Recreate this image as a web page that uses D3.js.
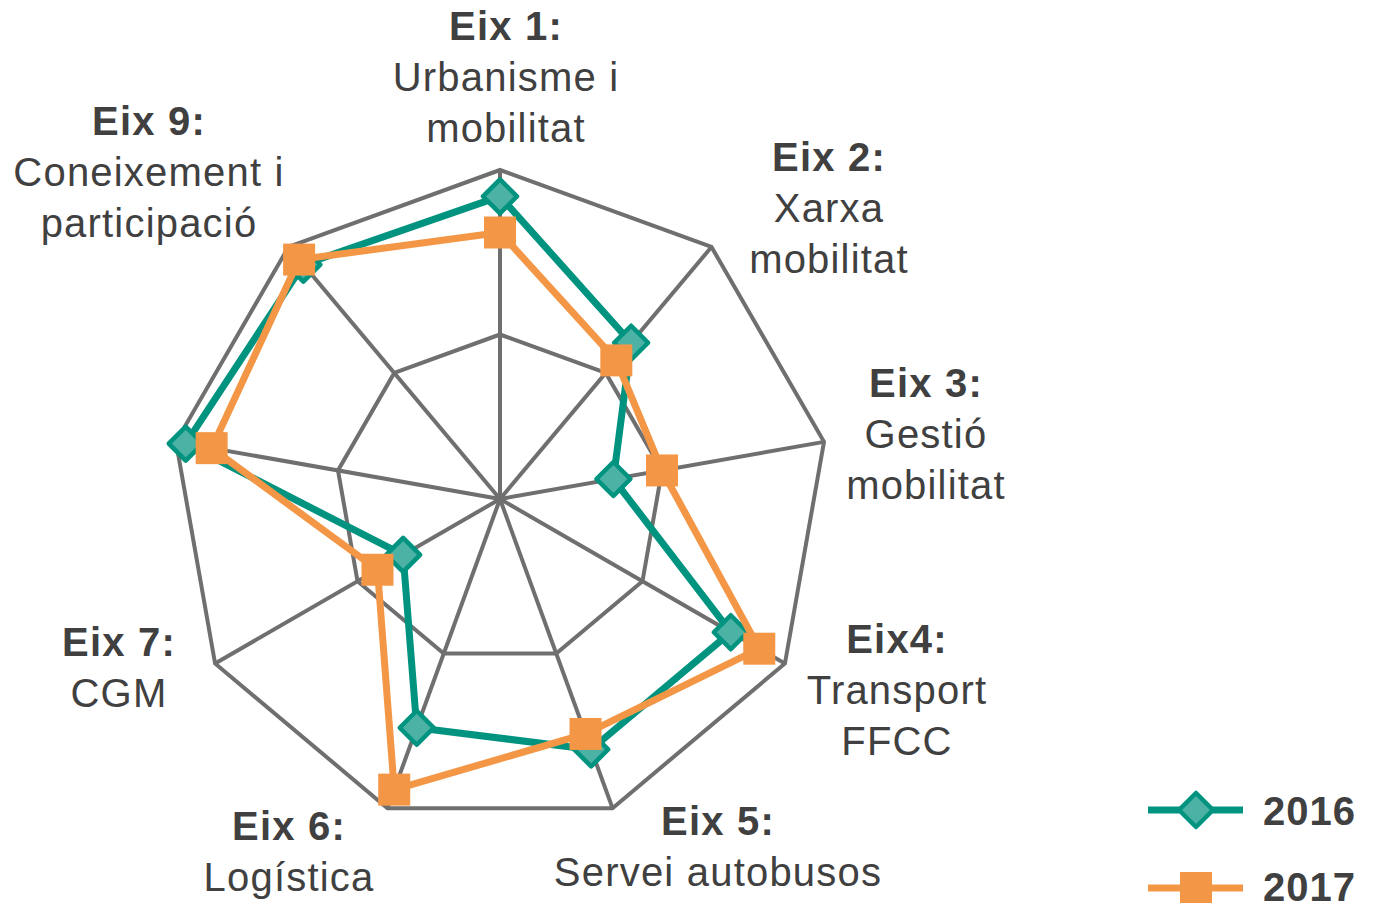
<!DOCTYPE html>
<html>
<head>
<meta charset="utf-8">
<script src="https://cdn.jsdelivr.net/npm/d3@7"></script>
<style>
  html, body { margin: 0; padding: 0; background: #ffffff; }
  svg { display: block; }
</style>
</head>
<body>
<svg id="chart" width="1378" height="903"></svg>
<script>
// ---- data ----
const categories = ["Eix 1", "Eix 2", "Eix 3", "Eix4", "Eix 5", "Eix 6", "Eix 7", "Eix 8", "Eix 9"];
const labelTitles = ["Eix 1:", "Eix 2:", "Eix 3:", "Eix4:", "Eix 5:", "Eix 6:", "Eix 7:", "", "Eix 9:"];
const labelLines = [
  ["Urbanisme i", "mobilitat"],
  ["Xarxa", "mobilitat"],
  ["Gestió", "mobilitat"],
  ["Transport", "FFCC"],
  ["Servei autobusos"],
  ["Logística"],
  ["CGM"],
  [],
  ["Coneixement i", "participació"]
];
const values2016 = [92, 62, 35, 81, 81, 74, 34, 97, 93];
const values2017 = [81, 55, 50, 91, 76, 94, 43, 89, 95];
const seriesNames = ["2016", "2017"];
const gridLevels = [50, 100];

// ---- layout ----
const cx = 500, cy = 499, R = 329;
const svg = d3.select("#chart");
const g = svg.append("g").attr("transform", `translate(${cx},${cy})`);

const rScale = d3.scaleLinear().domain([0, 100]).range([0, R]);
const aScale = d3.scaleLinear().domain([0, categories.length]).range([0, 2 * Math.PI]);
const pt = (i, v) => {
  const a = aScale(i);
  return [rScale(v) * Math.sin(a), -rScale(v) * Math.cos(a)];
};

const gridColor = "#6f6f6f";
// grid rings
gridLevels.forEach(lv => {
  g.append("path")
    .attr("d", d3.line()(categories.map((c, i) => pt(i, lv))) + "Z")
    .attr("fill", "none")
    .attr("stroke", gridColor)
    .attr("stroke-width", 4)
    .attr("stroke-linejoin", "miter");
});
// spokes
categories.forEach((c, i) => {
  const p = pt(i, 100);
  g.append("line")
    .attr("x1", 0).attr("y1", 0)
    .attr("x2", p[0]).attr("y2", p[1])
    .attr("stroke", gridColor)
    .attr("stroke-width", 4);
});

// ---- series ----
const teal = "#00937F", tealFill = "#4BB2A5", orange = "#F39746";
function drawSeries(vals, color, marker) {
  const pts = vals.map((v, i) => pt(i, v));
  g.append("path")
    .attr("d", d3.line()(pts) + "Z")
    .attr("fill", "none")
    .attr("stroke", color)
    .attr("stroke-width", 7)
    .attr("stroke-linejoin", "round");
  pts.forEach(p => marker(g, p[0], p[1]));
}
const diamond = (sel, x, y, s = 17) => sel.append("path")
  .attr("d", `M${x},${y - s}L${x + s},${y}L${x},${y + s}L${x - s},${y}Z`)
  .attr("fill", tealFill).attr("stroke", teal).attr("stroke-width", 4.5)
  .attr("stroke-linejoin", "round");
const square = (sel, x, y, s = 16) => sel.append("rect")
  .attr("x", x - s).attr("y", y - s).attr("width", 2 * s).attr("height", 2 * s)
  .attr("fill", orange);

drawSeries(values2016, teal, diamond);
drawSeries(values2017, orange, square);

// ---- axis labels ----
const labelPos = [
  [506, 40], [829, 171], [926, 397], [897, 653], [718, 835], [289, 840], [119, 656], [0, 0], [149, 135]
];
const lineH = 51;
const font = "'Liberation Sans', Arial, sans-serif";
categories.forEach((c, i) => {
  if (!labelTitles[i]) return;
  const t = svg.append("text")
    .attr("text-anchor", "middle")
    .attr("font-family", font)
    .attr("font-size", 40)
    .attr("letter-spacing", 1.2)
    .attr("fill", "#404040");
  t.append("tspan").attr("x", labelPos[i][0]).attr("y", labelPos[i][1])
    .attr("font-weight", "bold").text(labelTitles[i]);
  labelLines[i].forEach((l, k) => {
    t.append("tspan").attr("x", labelPos[i][0]).attr("y", labelPos[i][1] + lineH * (k + 1)).text(l);
  });
});

// ---- legend ----
const legendRows = [
  { name: seriesNames[0], color: teal, marker: diamond, y: 810, ty: 825 },
  { name: seriesNames[1], color: orange, marker: square, y: 888, ty: 901 }
];
legendRows.forEach(r => {
  svg.append("line").attr("x1", 1148).attr("x2", 1243).attr("y1", r.y).attr("y2", r.y)
    .attr("stroke", r.color).attr("stroke-width", 7);
  r.marker(svg, 1196, r.y);
  svg.append("text").attr("x", 1263).attr("y", r.ty)
    .attr("font-family", font).attr("font-size", 40).attr("font-weight", "bold")
    .attr("letter-spacing", 1).attr("fill", "#404040").text(r.name);
});
</script>
</body>
</html>
